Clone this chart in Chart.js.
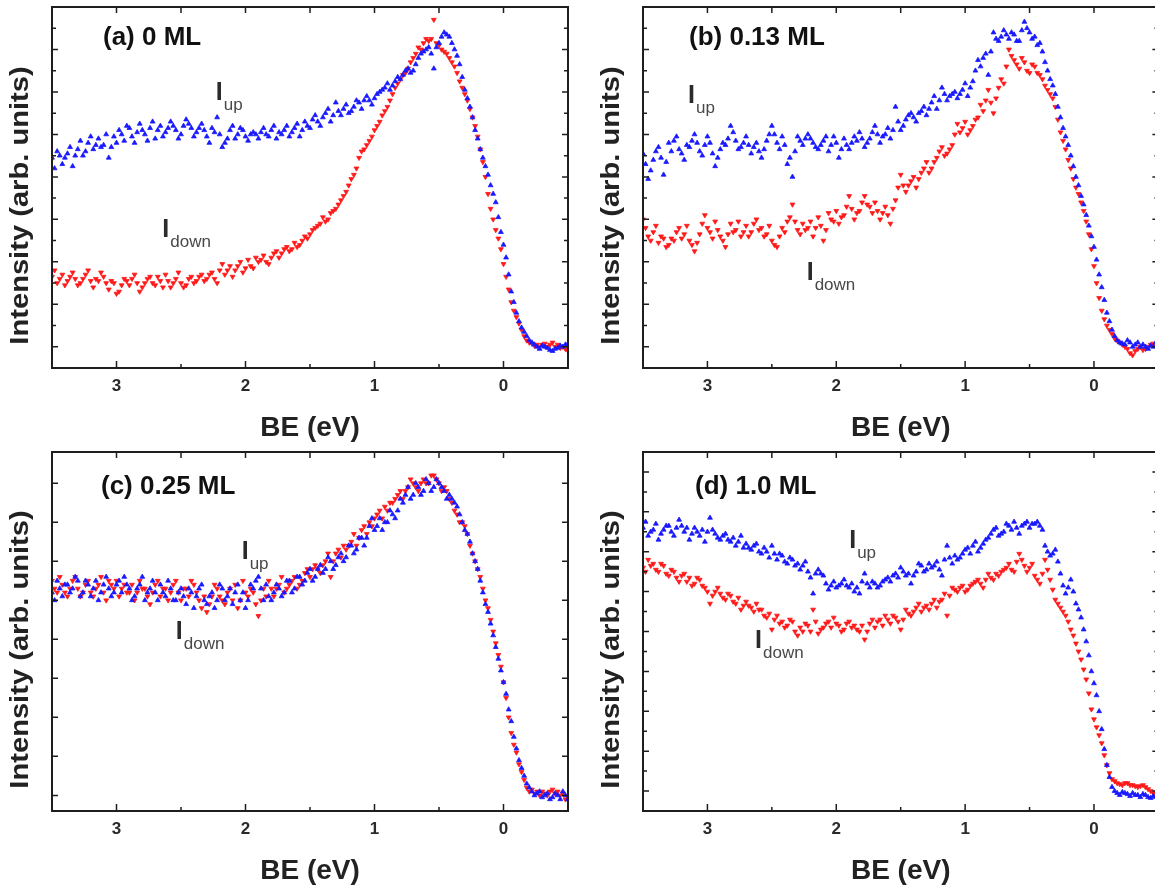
<!DOCTYPE html>
<html>
<head>
<meta charset="utf-8">
<title>Spin-resolved spectra</title>
<script src="https://cdn.jsdelivr.net/npm/chart.js@4.4.0/dist/chart.umd.min.js"></script>
<style>
  html, body { margin: 0; padding: 0; background: #fff; overflow: hidden; width: 1155px; height: 886px; }
  canvas { position: absolute; }
</style>
</head>
<body>
<canvas id="panelA" width="580" height="446" style="left:0;top:0"></canvas>
<canvas id="panelB" width="590" height="446" style="left:580px;top:0"></canvas>
<canvas id="panelC" width="580" height="446" style="left:0;top:440px"></canvas>
<canvas id="panelD" width="590" height="446" style="left:580px;top:440px"></canvas>
<script>
// binding energy grid (eV), left to right
const beValues = [
  3.5,3.48,3.46,3.44,3.42,3.4,3.38,3.36,3.34,3.32,3.3,3.28,3.26,3.24,3.22,3.2,3.18,3.16,3.14,3.12,
  3.1,3.08,3.06,3.04,3.02,3.0,2.98,2.96,2.94,2.92,2.9,2.88,2.86,2.84,2.82,2.8,2.78,2.76,2.74,2.72,
  2.7,2.68,2.66,2.64,2.62,2.6,2.58,2.56,2.54,2.52,2.5,2.48,2.46,2.44,2.42,2.4,2.38,2.36,2.34,2.32,
  2.3,2.28,2.26,2.24,2.22,2.2,2.18,2.16,2.14,2.12,2.1,2.08,2.06,2.04,2.02,2.0,1.98,1.96,1.94,1.92,
  1.9,1.88,1.86,1.84,1.82,1.8,1.78,1.76,1.74,1.72,1.7,1.68,1.66,1.64,1.62,1.6,1.58,1.56,1.54,1.52,
  1.5,1.48,1.46,1.44,1.42,1.4,1.38,1.36,1.34,1.32,1.3,1.28,1.26,1.24,1.22,1.2,1.18,1.16,1.14,1.12,
  1.1,1.08,1.06,1.04,1.02,1.0,0.98,0.96,0.94,0.92,0.9,0.88,0.86,0.84,0.82,0.8,0.78,0.76,0.74,0.72,
  0.7,0.68,0.66,0.64,0.62,0.6,0.58,0.56,0.54,0.52,0.5,0.48,0.46,0.44,0.42,0.4,0.38,0.36,0.34,0.32,
  0.3,0.28,0.26,0.24,0.22,0.2,0.18,0.16,0.14,0.12,0.1,0.08,0.06,0.04,0.02,0.0,-0.02,-0.04,-0.06,-0.08,
  -0.1,-0.12,-0.14,-0.16,-0.18,-0.2,-0.22,-0.24,-0.26,-0.28,-0.3,-0.32,-0.34,-0.36,-0.38,-0.4,-0.42,-0.44,-0.46,-0.48,
  -0.5
];

// (a) 0 ML
const upA = [
  9.9,9.4,10.2,10.0,9.6,9.9,10.1,10.4,9.5,10.0,10.3,10.7,10.0,10.2,10.6,10.9,10.3,10.5,10.8,10.4,
  10.5,11.0,9.9,10.4,10.9,10.6,11.2,11.0,10.7,11.4,11.3,10.9,10.6,11.1,11.5,11.2,11.0,10.7,11.3,11.6,
  10.8,11.2,11.4,10.9,11.1,11.3,11.6,11.4,11.2,10.8,11.0,11.4,11.7,11.5,11.3,10.9,11.1,11.3,11.5,11.2,
  10.9,10.6,11.3,11.1,11.8,11.0,10.4,10.6,10.8,11.2,11.4,10.8,11.0,11.3,11.2,10.9,10.7,11.0,11.1,11.0,
  10.8,11.1,11.3,11.0,10.9,11.2,11.4,10.8,11.1,11.0,11.2,11.4,10.9,11.1,11.3,11.5,10.9,11.2,11.6,11.4,
  11.3,11.7,11.9,11.6,11.4,11.8,12.0,12.2,11.6,11.9,12.5,12.1,11.9,12.2,12.4,12.0,12.1,12.3,12.6,12.5,
  12.2,12.6,12.8,12.6,12.4,12.7,12.9,13.0,13.1,13.2,13.4,13.1,13.3,13.5,13.7,13.6,13.8,14.0,14.1,13.9,
  14.0,14.3,14.6,14.8,14.9,15.0,15.1,14.8,14.1,15.1,15.3,15.6,15.8,15.7,15.6,15.3,15.0,14.7,14.3,13.7,
  13.1,12.7,12.3,11.8,11.2,10.8,10.3,9.9,9.5,9.1,8.6,8.2,7.8,7.1,6.4,5.8,5.2,4.4,3.6,3.1,
  2.6,2.2,1.9,1.7,1.5,1.3,1.2,1.1,1.0,0.9,1.05,1.0,0.95,0.85,0.8,0.9,0.95,1.05,1.0,1.1,
  1.15
];
const downA = [
  4.3,4.6,4.0,4.2,4.4,3.9,4.1,4.3,4.5,4.2,3.9,4.0,4.2,4.4,4.6,4.1,3.8,4.2,4.1,4.5,
  4.3,4.0,3.7,4.1,4.0,3.5,3.6,3.9,4.2,4.1,3.9,4.2,4.4,4.0,3.6,3.8,4.0,4.2,4.3,4.0,
  3.9,4.3,4.1,3.8,4.4,4.1,3.8,4.0,4.2,4.5,4.0,3.8,3.9,4.2,4.3,4.0,4.1,4.3,4.4,4.1,
  4.2,4.4,4.5,4.2,4.0,4.6,4.9,4.4,4.6,4.8,4.3,4.6,4.8,5.0,4.5,4.7,5.1,4.8,4.7,5.2,
  5.0,5.1,5.3,5.0,4.9,5.2,5.4,5.5,5.2,5.4,5.6,5.7,5.5,5.6,5.9,5.7,5.8,6.0,6.2,6.1,
  6.3,6.5,6.6,6.7,6.8,7.1,6.9,7.0,7.3,7.4,7.5,7.7,7.9,8.1,8.3,8.6,8.9,9.1,9.4,9.9,
  10.2,10.3,10.5,10.7,10.9,11.2,11.4,11.6,11.9,12.1,12.3,12.6,12.9,13.2,13.4,13.6,13.8,13.9,14.1,14.4,
  14.6,14.8,15.1,15.0,15.3,15.5,15.4,15.5,16.4,15.3,15.2,15.0,14.9,14.8,14.6,14.4,14.2,13.9,13.5,13.2,
  12.9,12.6,12.2,11.8,11.4,10.9,10.3,9.7,9.0,8.2,7.5,7.0,6.5,6.1,5.6,4.9,4.3,3.7,3.1,2.7,
  2.4,2.1,1.8,1.5,1.3,1.2,1.15,1.05,1.1,1.0,1.1,1.15,1.0,1.1,1.2,1.0,1.1,0.95,1.0,0.9,
  0.8
];

// (b) 0.13 ML
const upB = [
  10.1,9.6,8.9,9.3,9.8,10.2,10.4,9.9,9.1,9.7,10.6,10.2,10.7,10.9,10.3,10.1,9.8,10.5,10.4,10.7,
  11.0,10.6,10.2,10.0,10.5,10.9,10.6,10.1,9.5,9.9,10.3,10.6,10.5,10.8,11.4,11.1,10.7,10.3,10.4,10.6,
  10.9,10.5,10.1,10.4,10.6,10.2,9.9,10.3,10.7,11.0,11.4,11.0,10.6,10.3,10.9,10.5,9.6,9.9,9.0,10.2,
  10.9,10.7,10.5,10.8,11.0,10.8,10.6,10.4,10.3,10.5,10.7,10.9,10.2,10.5,10.9,10.6,9.9,10.3,10.8,10.5,
  10.3,10.6,10.9,10.7,11.1,10.8,10.4,10.6,10.8,11.1,11.4,11.0,10.6,10.9,11.0,11.3,10.8,11.2,12.3,11.6,
  11.2,11.4,11.7,11.9,12.0,11.8,11.6,12.0,12.1,12.3,11.9,12.2,12.5,12.8,12.2,12.6,13.2,12.9,12.6,12.8,
  12.9,13.0,12.7,12.9,13.1,13.4,12.8,13.2,13.5,14.0,14.5,14.2,14.6,14.8,13.8,14.9,15.8,15.5,15.4,15.6,
  15.9,15.7,15.5,15.8,15.7,15.4,15.4,15.9,16.3,16.0,15.8,15.5,15.6,15.2,15.3,14.9,14.4,14.0,13.6,13.3,
  12.9,12.3,11.8,11.3,10.9,10.5,10.0,9.5,9.0,8.6,8.1,7.7,7.2,6.7,6.2,5.7,5.1,4.4,3.8,3.2,
  2.6,2.2,1.8,1.5,1.3,1.2,1.15,1.1,1.3,1.2,1.0,1.1,1.2,1.0,1.1,1.0,0.9,1.05,1.0,1.2,
  1.1
];
const downB = [
  7.0,6.6,6.2,6.0,6.4,6.7,5.9,6.2,6.1,5.7,5.8,6.1,6.0,6.4,6.6,6.1,6.3,6.7,6.0,5.8,
  5.5,5.9,6.3,6.8,7.2,6.6,6.4,6.1,6.9,6.5,6.2,6.0,5.7,6.3,6.8,6.4,6.5,6.9,6.2,6.4,
  6.7,6.2,6.4,6.8,7.0,6.5,6.6,6.2,6.3,6.7,6.0,5.8,5.7,6.2,6.6,6.4,6.9,7.1,7.7,6.9,
  6.5,6.3,6.8,6.5,6.6,6.9,6.2,6.6,7.1,6.7,6.0,6.5,7.3,7.0,6.9,7.4,6.8,7.1,7.2,7.6,
  8.1,7.5,7.0,7.3,7.4,7.8,8.1,7.7,7.6,7.3,7.8,7.4,7.0,7.3,7.6,7.2,6.8,7.5,7.9,8.5,
  9.1,8.6,8.3,8.6,8.8,9.0,8.5,8.9,9.2,9.4,9.7,9.2,9.4,9.7,9.9,10.2,10.4,10.0,10.1,10.3,
  10.5,11.0,11.5,11.1,11.3,11.6,11.0,11.2,11.4,11.7,11.8,12.4,12.1,12.6,13.1,12.5,12.0,12.7,13.2,13.6,
  13.4,14.2,15.0,14.7,14.5,14.3,14.1,14.6,14.4,14.0,13.9,14.3,14.2,13.9,13.8,13.6,13.3,13.1,12.9,12.7,
  12.3,11.7,11.1,10.7,10.3,9.8,9.4,8.9,8.5,8.2,7.8,7.4,6.9,6.3,5.6,4.8,4.0,3.3,2.7,2.3,
  2.0,1.8,1.6,1.4,1.3,1.2,1.1,1.0,0.9,0.7,0.6,0.8,0.9,1.0,0.85,0.9,1.0,1.1,1.15,1.05,
  1.0
];

// (c) 0.25 ML
const upC = [
  5.2,5.0,5.5,5.3,5.1,5.4,5.4,5.2,5.3,5.6,5.5,5.1,5.2,5.5,5.4,5.1,5.3,5.5,5.0,5.2,
  5.4,5.6,5.3,5.1,5.2,5.4,5.5,5.2,5.6,5.4,5.3,5.0,5.1,5.3,5.4,5.6,5.0,5.2,5.3,5.5,
  5.2,5.0,5.4,5.2,5.1,5.5,5.3,5.0,5.0,5.2,5.3,5.1,4.9,5.3,5.2,4.8,5.1,5.3,5.4,5.0,
  4.9,5.1,5.2,4.8,5.0,5.4,5.3,5.0,5.1,5.3,4.9,5.2,5.4,5.0,5.2,4.8,5.0,5.4,5.3,5.5,
  5.6,5.3,5.0,5.4,5.1,5.0,5.2,5.4,5.3,5.1,5.2,5.5,5.5,5.2,5.3,5.6,5.6,5.4,5.5,5.7,
  5.8,5.5,5.6,5.8,5.9,5.7,5.8,6.1,6.0,5.8,5.9,6.1,6.2,6.0,6.1,6.4,6.4,6.2,6.3,6.6,
  6.6,6.4,6.6,6.9,7.1,6.8,6.9,7.1,6.8,7.0,7.0,7.3,7.2,7.1,7.3,7.6,7.5,7.7,7.9,7.6,
  7.7,8.0,7.9,7.7,7.8,8.1,8.0,7.8,7.9,8.1,8.0,7.9,7.8,7.6,7.7,7.6,7.5,7.4,7.2,7.0,
  6.8,6.7,6.5,6.2,6.0,5.8,5.5,5.2,4.9,4.7,4.4,4.1,3.8,3.5,3.2,2.9,2.6,2.2,1.9,1.5,
  1.2,0.9,0.7,0.5,0.3,0.2,0.1,0.0,0.05,0.1,-0.05,0.0,0.05,-0.1,-0.05,0.05,0.0,-0.1,0.1,0.0,
  -0.1
];
const downC = [
  5.5,5.3,5.2,5.6,5.4,5.2,5.1,5.3,5.5,5.6,5.3,5.1,5.2,5.4,5.5,5.2,5.1,5.3,5.4,5.6,
  5.2,5.0,5.5,5.4,5.3,5.5,5.1,5.3,5.4,5.2,5.2,5.4,5.0,5.2,5.5,5.3,5.3,5.1,4.9,5.2,
  5.4,5.5,5.1,5.3,5.3,5.0,5.2,5.4,5.5,5.2,5.0,5.3,5.3,5.1,5.5,5.4,5.2,5.0,4.8,5.1,
  4.7,4.9,5.1,5.4,5.3,5.1,5.0,4.9,5.2,5.3,5.0,5.4,4.8,5.0,5.5,5.2,5.1,5.3,5.2,4.9,
  4.6,5.0,5.3,5.1,5.5,5.3,5.1,5.3,5.4,5.6,5.2,5.3,5.4,5.5,5.6,5.3,5.4,5.5,5.7,5.8,
  5.6,5.8,5.9,5.8,5.7,5.9,6.0,6.2,5.6,6.0,6.2,6.3,6.1,6.4,6.3,6.4,6.5,6.7,6.4,6.6,
  6.8,6.9,6.7,7.0,6.9,7.1,7.2,7.3,7.1,7.4,7.3,7.5,7.5,7.6,7.7,7.8,7.6,7.8,7.9,8.1,
  8.0,7.9,7.8,8.0,8.1,8.0,8.0,8.2,8.2,8.1,8.0,7.8,7.9,7.8,7.6,7.5,7.3,7.2,7.0,7.0,
  6.9,6.7,6.4,6.2,6.0,5.8,5.6,5.3,5.0,4.8,4.5,4.2,3.9,3.6,3.3,2.9,2.5,2.0,1.6,1.3,
  1.1,0.8,0.6,0.4,0.2,0.1,0.15,0.05,0.1,0.0,0.1,0.05,0.0,0.1,0.15,0.05,0.1,0.0,0.05,-0.1,
  -0.05
];

// (d) 1.0 ML
const upD = [
  14.2,14.5,13.8,14.0,14.1,14.4,13.6,13.9,14.1,14.3,14.3,14.0,13.8,14.2,14.6,14.3,14.0,14.2,13.6,13.9,
  14.2,14.0,13.8,14.1,13.5,14.0,14.7,14.1,13.9,13.7,13.6,13.8,13.9,13.6,13.5,13.7,13.3,13.5,13.8,13.2,
  13.4,13.2,13.1,13.3,13.4,13.0,12.9,13.2,13.0,12.7,13.3,12.9,12.6,12.9,12.8,12.5,12.4,12.7,12.6,12.3,
  12.4,12.1,12.3,12.5,12.0,11.7,10.9,11.9,12.1,11.9,11.8,11.4,11.1,11.3,11.5,11.2,11.3,11.4,11.6,11.3,
  11.2,11.4,11.0,11.2,10.9,11.5,11.9,11.4,11.2,11.5,11.4,11.2,11.3,11.5,11.6,11.7,11.5,11.8,11.9,11.7,
  12.2,12.0,11.8,11.9,11.4,11.8,12.0,12.4,12.3,12.0,12.1,12.4,12.2,12.3,12.5,12.1,11.8,12.6,13.3,12.7,
  12.4,12.8,12.6,12.7,12.9,13.1,13.2,12.9,13.3,13.5,13.0,13.2,13.4,13.6,13.7,13.9,14.1,14.2,13.8,13.9,
  14.0,14.4,14.3,14.1,14.5,14.2,13.9,14.3,14.4,14.5,14.2,14.4,14.4,14.5,14.3,14.1,13.3,13.0,12.8,12.9,
  13.1,12.5,11.9,11.3,10.9,11.2,11.6,11.0,10.4,10.1,9.7,9.1,8.5,7.8,7.0,6.4,5.8,5.0,4.1,3.1,
  2.3,1.7,1.2,1.0,0.9,0.8,0.95,0.9,0.85,0.75,0.9,0.8,0.8,0.7,0.85,0.8,0.7,0.65,0.75,0.7,
  0.6
];
const downD = [
  12.2,12.0,12.6,12.3,12.4,12.1,12.0,12.4,12.3,11.9,11.8,12.1,12.0,11.7,11.5,11.8,11.9,11.5,11.7,11.3,
  11.4,11.7,11.6,11.3,11.2,11.0,10.4,10.8,11.0,11.2,10.9,10.7,10.6,10.9,10.8,10.5,10.4,10.7,10.1,10.3,
  10.5,10.3,10.2,10.0,10.4,10.1,10.1,9.8,9.7,9.9,9.1,9.6,9.8,9.4,9.5,9.2,9.3,9.6,9.5,9.0,
  8.8,9.2,9.0,9.4,9.3,9.0,10.1,9.5,8.9,9.1,9.2,9.4,9.5,9.2,9.7,9.4,9.3,9.0,9.1,9.4,
  9.5,9.2,9.3,9.1,9.0,9.3,8.6,9.0,9.4,9.6,9.2,9.5,9.6,9.3,9.8,9.6,9.4,9.8,9.7,9.5,
  9.1,9.6,10.1,9.9,9.8,10.0,10.2,10.4,10.0,10.2,10.3,10.1,10.4,10.6,10.2,10.5,10.6,10.9,9.8,10.8,
  11.2,11.1,11.0,11.2,11.3,11.0,11.1,11.3,11.4,11.5,11.6,11.4,11.2,11.6,11.9,11.7,11.6,11.9,11.8,12.0,
  12.1,12.2,12.4,12.1,12.0,12.5,12.9,12.6,12.3,12.0,12.2,12.4,11.8,11.6,11.4,11.9,12.6,12.1,11.6,11.1,
  10.6,10.4,10.2,10.0,9.8,9.5,9.1,8.8,8.4,8.0,7.6,7.1,6.6,5.9,5.1,4.6,4.2,3.8,3.4,2.8,
  2.3,1.9,1.6,1.5,1.4,1.35,1.3,1.4,1.4,1.3,1.3,1.25,1.2,1.25,1.3,1.2,1.1,1.0,0.9,0.85,
  0.8
];

const panelLabels = ['(a) 0 ML', '(b) 0.13 ML', '(c) 0.25 ML', '(d) 1.0 ML'];
const beLabelTicks = [3, 2, 1, 0];
const beTickMarks = [3, 2.5, 2, 1.5, 1, 0.5, 0];
const yTicksAB = [1, 2, 3, 4, 5, 6, 7, 8, 9, 10, 11, 12, 13, 14, 15, 16];
const yTicksC = [0, 1, 2, 3, 4, 5, 6, 7, 8];
const yTicksD = [1, 2, 3, 4, 5, 6, 7, 8, 9, 10, 11, 12, 13, 14, 15, 16, 17];

const FONT = '"Liberation Sans", Arial, Helvetica, sans-serif';
const INK = '#1e1e1e';

const panels = [
  { id: 'panelA', up: upA, down: downA, label: panelLabels[0],
    pad: { left: 52, top: 7, right: 12 }, axisHeight: 78,
    yMin: 0, yMax: 17, yTicks: yTicksAB, yAlt: true, labelAt: [51, 38],
    marks: [{ x: 2.23, y: 12.6, sub: 'up' }, { x: 2.645, y: 6.17, sub: 'down' }] },
  { id: 'panelB', up: upB, down: downB, label: panelLabels[1],
    pad: { left: 63, top: 7, right: 11.6 }, axisHeight: 78,
    yMin: 0, yMax: 17, yTicks: yTicksAB, yAlt: true, labelAt: [46, 38],
    marks: [{ x: 3.15, y: 12.48, sub: 'up' }, { x: 2.23, y: 4.14, sub: 'down' }] },
  { id: 'panelC', up: upC, down: downC, label: panelLabels[2],
    pad: { left: 52, top: 12, right: 12 }, axisHeight: 75,
    yMin: -0.4, yMax: 8.8, yTicks: yTicksC, yAlt: false, labelAt: [49, 42],
    marks: [{ x: 2.03, y: 6.05, sub: 'up' }, { x: 2.54, y: 4.0, sub: 'down' }] },
  { id: 'panelD', up: upD, down: downD, label: panelLabels[3],
    pad: { left: 63, top: 12, right: 11.6 }, axisHeight: 75,
    yMin: 0, yMax: 18, yTicks: yTicksD, yAlt: true, labelAt: [52, 42],
    marks: [{ x: 1.90, y: 13.19, sub: 'up' }, { x: 2.63, y: 8.17, sub: 'down' }] }
];

function toPoints(values) {
  return values.map((v, i) => ({ x: beValues[i], y: v }));
}

// frame, inward tick marks and all the lettering of one panel
function decorations(p) {
  return {
    id: 'decor_' + p.id,
    afterDraw(chart) {
      const { ctx, chartArea: a, scales: { x, y } } = chart;
      ctx.save();
      ctx.strokeStyle = INK;
      ctx.lineWidth = 1.5;
      ctx.beginPath();
      beTickMarks.forEach(v => {
        const px = x.getPixelForValue(v);
        const major = Number.isInteger(v);
        ctx.moveTo(px, a.bottom); ctx.lineTo(px, a.bottom - (major ? 7 : 4));
        ctx.moveTo(px, a.top); ctx.lineTo(px, a.top + 6);
      });
      p.yTicks.forEach(v => {
        const py = y.getPixelForValue(v);
        const len = (!p.yAlt || v % 2 === 1) ? 6 : 4;
        ctx.moveTo(a.left, py); ctx.lineTo(a.left + len, py);
        ctx.moveTo(a.right, py); ctx.lineTo(a.right - len, py);
      });
      ctx.stroke();
      ctx.lineWidth = 2;
      ctx.strokeRect(a.left, a.top, a.right - a.left, a.bottom - a.top);

      // panel caption
      ctx.fillStyle = '#111';
      ctx.textAlign = 'left';
      ctx.textBaseline = 'alphabetic';
      ctx.font = 'bold 26px ' + FONT;
      ctx.fillText(p.label, a.left + p.labelAt[0], a.top + p.labelAt[1]);

      // axis titles
      ctx.fillStyle = '#222';
      ctx.textAlign = 'center';
      ctx.font = 'bold 28px ' + FONT;
      ctx.fillText('BE (eV)', (a.left + a.right) / 2, a.bottom + 68);

      ctx.save();
      ctx.translate(a.left - 31, (a.top + a.bottom) / 2 + 18);
      ctx.rotate(-Math.PI / 2);
      ctx.scale(1.12, 1);
      ctx.textBaseline = 'middle';
      ctx.font = 'bold 26px ' + FONT;
      ctx.fillText('Intensity (arb. units)', 0, 0);
      ctx.restore();

      // I_up / I_down tags
      ctx.textAlign = 'left';
      ctx.textBaseline = 'alphabetic';
      p.marks.forEach(m => {
        const mx = x.getPixelForValue(m.x);
        const my = y.getPixelForValue(m.y);
        ctx.fillStyle = '#2b2b2b';
        ctx.font = 'bold 25px ' + FONT;
        ctx.fillText('I', mx, my);
        ctx.fillStyle = '#484848';
        ctx.font = '17px ' + FONT;
        ctx.fillText(m.sub, mx + 8, my + 10);
      });
      ctx.restore();
    }
  };
}

function drawPanel(p) {
  const ctx = document.getElementById(p.id).getContext('2d');
  new Chart(ctx, {
    type: 'scatter',
    data: {
      datasets: [{
        label: 'I_up',
        data: toPoints(p.up),
        pointStyle: 'triangle',
        pointRadius: 2.8,
        pointBorderWidth: 0.8,
        backgroundColor: 'rgb(25, 25, 255)',
        borderColor: 'rgb(25, 25, 255)'
      }, {
        label: 'I_down',
        data: toPoints(p.down),
        pointStyle: 'triangle',
        pointRotation: 180,
        pointRadius: 2.8,
        pointBorderWidth: 0.8,
        backgroundColor: 'rgb(255, 25, 25)',
        borderColor: 'rgb(255, 25, 25)'
      }]
    },
    options: {
      responsive: false,
      maintainAspectRatio: false,
      animation: false,
      events: [],
      layout: { padding: { left: p.pad.left, top: p.pad.top, right: p.pad.right, bottom: 0 } },
      plugins: { legend: { display: false }, tooltip: { enabled: false } },
      scales: {
        x: {
          type: 'linear',
          min: -0.5,
          max: 3.5,
          reverse: true,
          grid: { display: false, drawTicks: false },
          border: { display: false },
          afterBuildTicks: s => { s.ticks = beLabelTicks.map(v => ({ value: v })); },
          afterFit: s => { s.height = p.axisHeight; },
          ticks: {
            padding: 8,
            color: '#2a2a2a',
            font: { family: FONT, size: 17, weight: 'bold' }
          }
        },
        y: {
          display: false,
          min: p.yMin,
          max: p.yMax
        }
      }
    },
    plugins: [decorations(p)]
  });
}

panels.forEach(drawPanel);
</script>
</body>
</html>
